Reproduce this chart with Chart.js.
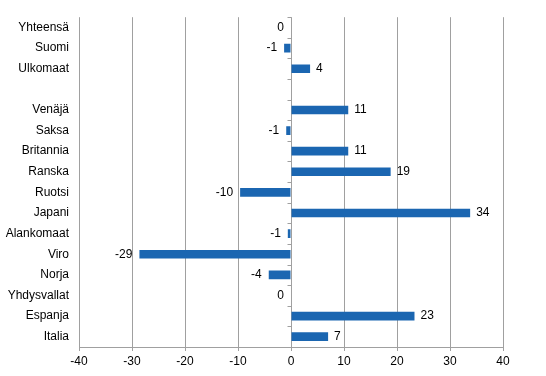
<!DOCTYPE html>
<html>
<head>
<meta charset="utf-8">
<script src="https://cdn.jsdelivr.net/npm/chart.js@4/dist/chart.umd.min.js"></script>
<style>
  html, body { margin: 0; padding: 0; background: #fff; }
  #wrap { width: 546px; height: 376px; position: relative; }
</style>
</head>
<body>
<div id="wrap"><canvas id="chart"></canvas></div>
<script>
// Categories (top to bottom), blank row separates totals from countries
const categories = [
    'Yhteensä', 'Suomi', 'Ulkomaat', '',
    'Venäjä', 'Saksa', 'Britannia', 'Ranska', 'Ruotsi', 'Japani',
    'Alankomaat', 'Viro', 'Norja', 'Yhdysvallat', 'Espanja', 'Italia'
];

// Change, % (bar lengths)
const values = [0, -1.3, 3.6, null, 10.8, -0.9, 10.8, 18.8, -9.6, 33.8, -0.6, -28.6, -4.2, 0, 23.3, 7.0];

// Shown data labels
const valueLabels = ['0', '-1', '4', '', '11', '-1', '11', '19', '-10', '34', '-1', '-29', '-4', '0', '23', '7'];

const xTicks = [-40, -30, -20, -10, 0, 10, 20, 30, 40];

const FONT = 'Liberation Sans, Arial, sans-serif';
const GRID = '#a0a0a0';

// bar value labels
const valueLabelPlugin = {
    id: 'valueLabels',
    afterDatasetsDraw(chart) {
        const ctx = chart.ctx;
        const meta = chart.getDatasetMeta(0);
        const zero = chart.scales.x.getPixelForValue(0);
        ctx.save();
        ctx.font = '12px ' + FONT;
        ctx.fillStyle = '#000';
        ctx.textBaseline = 'middle';
        meta.data.forEach((bar, i) => {
            if (values[i] === null) return;
            if (values[i] > 0) {
                ctx.textAlign = 'left';
                ctx.fillText(valueLabels[i], bar.x + 6, bar.y);
            } else {
                ctx.textAlign = 'right';
                ctx.fillText(valueLabels[i], Math.min(bar.x, zero) - 7, bar.y);
            }
        });
        ctx.restore();
    }
};

// small tick marks on the zero line between categories
const zeroTicksPlugin = {
    id: 'zeroTicks',
    afterDraw(chart) {
        const ctx = chart.ctx;
        const x0 = Math.round(chart.scales.x.getPixelForValue(0)) + 0.5;
        const y = chart.scales.y;
        ctx.save();
        ctx.strokeStyle = GRID;
        ctx.lineWidth = 1;
        ctx.beginPath();
        for (let i = 0; i <= categories.length; i++) {
            const py = Math.round(y.getPixelForValue(i - 0.5)) + 0.5;
            ctx.moveTo(x0 - 4, py);
            ctx.lineTo(x0, py);
        }
        ctx.stroke();
        ctx.restore();
    }
};

const config = {
    type: 'bar',
    data: {
        labels: categories,
        datasets: [{
            data: values,
            backgroundColor: '#1b66b1',
            borderWidth: 0,
            barPercentage: 0.42,
            categoryPercentage: 1.0
        }]
    },
    options: {
        indexAxis: 'y',
        responsive: true,
        maintainAspectRatio: false,
        animation: false,
        layout: {
            padding: { top: 14, right: 43, left: 0, bottom: 0 }
        },
        plugins: {
            legend: { display: false },
            tooltip: { enabled: false }
        },
        scales: {
            x: {
                min: -40,
                max: 40,
                afterBuildTicks(scale) {
                    scale.ticks = xTicks.map(v => ({ value: v }));
                },
                afterFit(scale) {
                    scale.height = 29;
                },
                grid: {
                    color: GRID,
                    lineWidth: 1,
                    drawTicks: true,
                    tickLength: 4
                },
                border: { display: true, color: GRID },
                ticks: {
                    color: '#000',
                    padding: 3,
                    font: { family: FONT, size: 12 }
                }
            },
            y: {
                afterFit(scale) {
                    scale.width = 79;
                },
                grid: { display: false, drawTicks: false },
                border: { display: false },
                ticks: {
                    color: '#000',
                    padding: 10,
                    autoSkip: false,
                    font: { family: FONT, size: 12 }
                }
            }
        }
    },
    plugins: [valueLabelPlugin, zeroTicksPlugin]
};

window.onload = () => {
    const ctx = document.getElementById('chart').getContext('2d');
    new Chart(ctx, config);
};
</script>
</body>
</html>
